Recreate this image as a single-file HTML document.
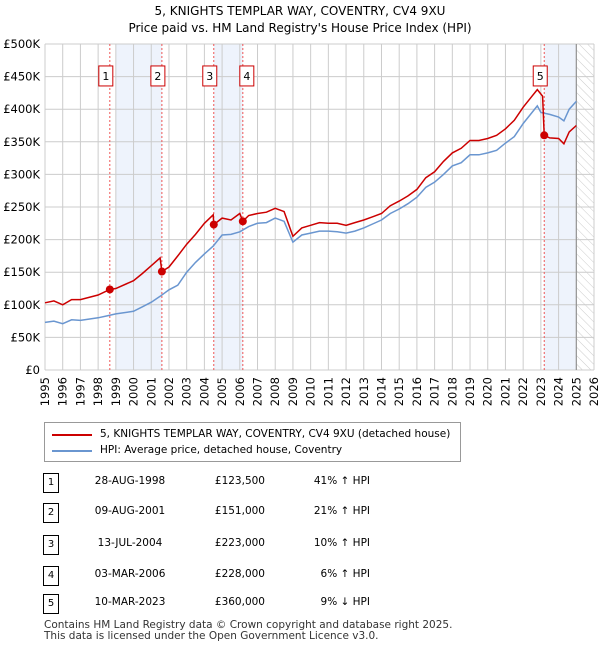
<!DOCTYPE html>
<html><head><meta charset="utf-8"><style>
body{margin:0;background:#fff;font-family:"DejaVu Sans","Liberation Sans",sans-serif;color:#000}
#wrap{position:relative;width:600px;height:650px;overflow:hidden}
.t{position:absolute;font-size:12px;white-space:nowrap}
.nb{position:absolute;width:14px;height:18px;border:1px solid #000;font-size:10px;text-align:center;line-height:18px;left:43px}
</style></head><body><div id="wrap">
<div class="t" style="left:0;width:600px;text-align:center;top:4px;font-size:12px">5, KNIGHTS TEMPLAR WAY, COVENTRY, CV4 9XU</div>
<div class="t" style="left:0;width:600px;text-align:center;top:21px;font-size:12px">Price paid vs. HM Land Registry's House Price Index (HPI)</div>
<svg id="ch" width="600" height="420" style="position:absolute;left:0;top:0;font-family:'DejaVu Sans',sans-serif"></svg>
<div style="position:absolute;left:44px;top:422px;width:415px;height:38px;border:1px solid #999"></div>
<svg width="600" height="470" style="position:absolute;left:0;top:0"><line x1="52" y1="435" x2="92" y2="435" stroke="#cc0000" stroke-width="2"/><line x1="52" y1="451" x2="92" y2="451" stroke="#6a96d0" stroke-width="2"/></svg>
<div class="t" style="left:100px;top:428px;font-size:10.5px">5, KNIGHTS TEMPLAR WAY, COVENTRY, CV4 9XU (detached house)</div>
<div class="t" style="left:100px;top:444px;font-size:10.5px">HPI: Average price, detached house, Coventry</div>
<div id="tbl"></div>
<div class="t" style="left:44px;top:620px;font-size:10.5px;line-height:11px;color:#333">Contains HM Land Registry data © Crown copyright and database right 2025.<br>This data is licensed under the Open Government Licence v3.0.</div>
</div>
<script>
const years=[];for(let y=1995;y<=2026;y++)years.push(y);
const yTicks=[0,50,100,150,200,250,300,350,400,450,500];
const hpiT=[1995,1995.5,1996,1996.5,1997,1998,1998.5,1999,2000,2000.5,2001,2001.5,2002,2002.5,2003,2003.5,2004,2004.5,2005,2005.5,2006,2006.5,2007,2007.5,2008,2008.5,2009,2009.5,2010,2010.5,2011,2011.5,2012,2012.5,2013,2013.5,2014,2014.5,2015,2015.5,2016,2016.5,2017,2017.5,2018,2018.5,2019,2019.5,2020,2020.5,2021,2021.5,2022,2022.5,2022.8,2023,2023.5,2024,2024.3,2024.6,2025];
const hpiV=[73,75,71,77,76,80,83,86,90,97,104,113,123,130,150,165,178,190,207,208,212,220,225,226,233,228,196,207,210,213,213,212,210,213,218,224,230,240,247,255,265,280,288,300,313,318,330,330,333,337,348,358,378,395,405,395,392,388,382,400,412];
const ppT=[1995,1995.5,1996,1996.5,1997,1998,1998.66,1999,2000,2000.5,2001,2001.5,2001.6,2002,2002.5,2003,2003.5,2004,2004.5,2004.53,2005,2005.5,2006,2006.17,2006.5,2007,2007.5,2008,2008.5,2009,2009.5,2010,2010.5,2011,2011.5,2012,2012.5,2013,2013.5,2014,2014.5,2015,2015.5,2016,2016.5,2017,2017.5,2018,2018.5,2019,2019.5,2020,2020.5,2021,2021.5,2022,2022.5,2022.8,2023.1,2023.19,2023.5,2024,2024.3,2024.6,2025];
const ppV=[103,106,100,108,108,115,123.5,125,137,148,160,172,151,158,175,193,208,225,238,223,233,230,240,228,237,240,242,248,243,205,218,222,226,225,225,222,226,230,235,240,252,259,267,277,295,304,320,333,340,352,352,355,360,370,383,403,420,430,420,360,356,355,347,365,375];
const saleT=[1998.66,2001.6,2004.53,2006.17,2023.19];
const saleV=[123.5,151,223,228,360];
const saleDates=["28-AUG-1998","09-AUG-2001","13-JUL-2004","03-MAR-2006","10-MAR-2023"];
const salePrices=["£123,500","£151,000","£223,000","£228,000","£360,000"];
const salePct=["41% ↑ HPI","21% ↑ HPI","10% ↑ HPI","6% ↑ HPI","9% ↓ HPI"];
const shadeFrom=[1999,2004.53,2023.19],shadeTo=[2001.6,2006.17,2025];
const X=t=>45+(t-1995)*(594-45)/31, Y=v=>370-v*0.652;
const svg=document.getElementById('ch'),NS='http://www.w3.org/2000/svg';
function mk(tag,a,p){const e=document.createElementNS(NS,tag);for(const k in a)e.setAttribute(k,a[k]);(p||svg).appendChild(e);return e;}
for(let i=0;i<shadeFrom.length;i++){const r=mk('rect',{x:X(shadeFrom[i]),y:Y(500),width:X(shadeTo[i])-X(shadeFrom[i]),height:Y(0)-Y(500),fill:'#eef3fc'});

}
const defs=mk('defs',{});const pat=mk('pattern',{id:'h',width:6,height:6,patternUnits:'userSpaceOnUse',patternTransform:'rotate(-45)'},defs);mk('line',{x1:0,y1:0,x2:0,y2:6,stroke:'#ccc'},pat);
const hz=mk('rect',{x:X(2025),y:Y(500),width:X(2026)-X(2025),height:Y(0)-Y(500),fill:'url(#h)'});


years.forEach(y=>{mk('line',{x1:X(y),x2:X(y),y1:Y(500),y2:Y(0),stroke:'#ccc'});
const t=mk('text',{x:0,y:0,transform:`translate(${X(y)+4},${Y(0)+7}) rotate(-90)`,'text-anchor':'end','font-size':11.5});t.textContent=y;

});
yTicks.forEach(v=>{mk('line',{x1:X(1995),x2:X(2026),y1:Y(v),y2:Y(v),stroke:'#ccc'});
const t=mk('text',{x:40,y:Y(v)+4,'text-anchor':'end','font-size':11.5});t.textContent=v?'£'+v+'K':'£0';

});
mk('line',{x1:X(2025),x2:X(2025),y1:Y(500),y2:Y(0),stroke:'#888'});
saleT.forEach((t,i)=>{mk('line',{x1:X(t),x2:X(t),y1:Y(500),y2:Y(0),stroke:'#e55','stroke-dasharray':'2,2'});});
const pl=(T,V)=>T.map((t,i)=>X(t).toFixed(1)+','+Y(V[i]).toFixed(1)).join(' ');
const h=mk('polyline',{points:pl(hpiT,hpiV),fill:'none',stroke:'#6a96d0','stroke-width':1.5});


const p=mk('polyline',{points:pl(ppT,ppV),fill:'none',stroke:'#cc0000','stroke-width':1.5});


saleT.forEach((t,i)=>{const c=mk('circle',{cx:X(t),cy:Y(saleV[i]),r:4,fill:'#cc0000'});


const offs=[-4,-4,-4,4,-4];
const g=mk('g',{});

const bx=X(t)+offs[i]-7;mk('rect',{x:bx,y:Y(451)-10,width:14,height:20,fill:'#fff',stroke:'#cc0000'},g);
const tx=mk('text',{x:bx+7,y:Y(451)+4,'text-anchor':'middle','font-size':11},g);tx.textContent=i+1;});
const tbl=document.getElementById('tbl');const rowY=[483,513,545,576,604];
saleDates.forEach((d,i)=>{const y=rowY[i];
const n=document.createElement('div');n.className='nb';n.style.top=(y-10)+'px';n.textContent=i+1;

tbl.appendChild(n);
[[d,90,80],[salePrices[i],195,70],[salePct[i],295,75]].forEach(([s,l,w],j)=>{const e=document.createElement('div');e.className='t';e.style.cssText=`left:${l}px;width:${w}px;top:${y-8}px;font-size:10.5px;text-align:${j?'right':'center'}`;e.textContent=s;

tbl.appendChild(e);});});
</script></body></html>
